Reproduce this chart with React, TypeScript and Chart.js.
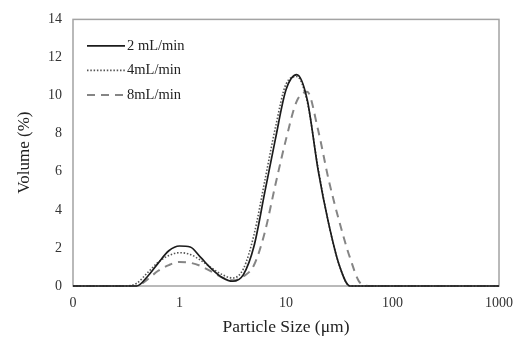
import React, { useEffect, useRef } from "react";
import { Chart, registerables } from "chart.js";

Chart.register(...registerables);

const sizes = [
  0.1, 0.126, 0.158, 0.2, 0.251, 0.316, 0.398, 0.501, 0.631, 0.794,
  1, 1.26, 1.58, 2.0, 2.51, 3.16, 3.98, 5.01, 6.31, 7.94,
  10, 12.6, 15.8, 20, 25.1, 31.6, 39.8, 50.1, 63.1, 79.4,
  100, 126, 158, 200, 251, 316, 398, 501, 631, 794, 1000,
];

const rate2 = [
  0, 0, 0, 0, 0, 0, 0, 0.5, 1.2, 1.85,
  2.1, 2.05, 1.5, 0.9, 0.45, 0.25, 0.6, 2.1, 4.9, 7.7,
  10.3, 11.1, 9.8, 6.1, 3.3, 1.1, 0, 0, 0, 0,
  0, 0, 0, 0, 0, 0, 0, 0, 0, 0, 0,
];

const rate4 = [
  0, 0, 0, 0, 0, 0, 0.15, 0.7, 1.25, 1.6,
  1.75, 1.66, 1.35, 0.95, 0.6, 0.42, 0.9, 2.7, 5.5, 8.3,
  10.6, 11.0, 9.7, 6.2, 3.3, 1.1, 0, 0, 0, 0,
  0, 0, 0, 0, 0, 0, 0, 0, 0, 0, 0,
];

const rate8 = [
  0, 0, 0, 0, 0, 0, 0, 0.35, 0.8, 1.1,
  1.26, 1.22, 1.05, 0.75, 0.45, 0.3, 0.5, 1.1, 2.8, 5.3,
  7.7, 9.7, 10.2, 8.2, 5.6, 3.4, 1.5, 0.15, 0, 0,
  0, 0, 0, 0, 0, 0, 0, 0, 0, 0, 0,
];

const seriesLabels = ["2 mL/min", "4mL/min", "8mL/min"];
const xTickValues = [0.1, 1, 10, 100, 1000];
const xTickLabels = ["0", "1", "10", "100", "1000"];
const yTickValues = [0, 2, 4, 6, 8, 10, 12, 14];

const FONT = '"Liberation Serif", "Times New Roman", serif';

const framePlugin = {
  id: "frame",
  beforeDatasetsDraw(chart: any) {
    const { ctx, chartArea } = chart;
    ctx.save();
    ctx.strokeStyle = "#a3a3a3";
    ctx.lineWidth = 1.5;
    ctx.strokeRect(chartArea.left, chartArea.top, chartArea.right - chartArea.left, chartArea.bottom - chartArea.top);
    ctx.restore();
  },
};

const legendPlugin = {
  id: "insideLegend",
  afterDraw(chart: any) {
    const { ctx, chartArea } = chart;
    const x0 = chartArea.left + 14;
    const w = 38;
    chart.data.datasets.forEach((ds: any, i: number) => {
      const y = chartArea.top + 26.5 + i * 24.5;
      ctx.save();
      ctx.strokeStyle = ds.borderColor;
      ctx.lineWidth = ds.borderWidth;
      ctx.setLineDash(ds.borderDash || []);
      ctx.beginPath();
      ctx.moveTo(x0, y);
      ctx.lineTo(x0 + w, y);
      ctx.stroke();
      ctx.setLineDash([]);
      ctx.fillStyle = "#222";
      ctx.font = `14.5px ${FONT}`;
      ctx.textBaseline = "middle";
      ctx.textAlign = "left";
      ctx.fillText(ds.label, x0 + w + 2, y);
      ctx.restore();
    });
  },
};

export default function App() {
  const ref = useRef<HTMLCanvasElement | null>(null);

  useEffect(() => {
    if (!ref.current) return;
    const mk = (vals: number[]) => sizes.map((s, i) => ({ x: s, y: vals[i] }));
    const chart = new Chart(ref.current, {
      type: "line",
      data: {
        datasets: [
          {
            label: seriesLabels[0],
            data: mk(rate2),
            borderColor: "#1c1c1c",
            borderWidth: 1.7,
            borderDash: [],
            pointRadius: 0,
            cubicInterpolationMode: "monotone",
            clip: 5,
          },
          {
            label: seriesLabels[1],
            data: mk(rate4),
            borderColor: "#555555",
            borderWidth: 1.6,
            borderDash: [1.5, 1.8],
            pointRadius: 0,
            cubicInterpolationMode: "monotone",
            clip: 5,
          },
          {
            label: seriesLabels[2],
            data: mk(rate8),
            borderColor: "#858585",
            borderWidth: 2,
            borderDash: [8, 6],
            pointRadius: 0,
            cubicInterpolationMode: "monotone",
            clip: 5,
          },
        ],
      },
      options: {
        responsive: false,
        animation: false,
        layout: { padding: { top: 18, right: 15, left: 0, bottom: 0 } },
        plugins: { legend: { display: false }, tooltip: { enabled: false } },
        scales: {
          x: {
            type: "logarithmic",
            min: 0.1,
            max: 1000,
            grid: { display: false, drawTicks: false },
            border: { display: false },
            afterBuildTicks: (scale: any) => {
              scale.ticks = xTickValues.map((v) => ({ value: v }));
            },
            afterFit: (scale: any) => {
              scale.height = 52;
            },
            ticks: {
              autoSkip: false,
              maxRotation: 0,
              padding: 9,
              color: "#333",
              font: { family: FONT, size: 14 },
              callback: (_v: any, i: number) => xTickLabels[i],
            },
            title: {
              display: true,
              text: "Particle Size (μm)",
              color: "#222",
              font: { family: FONT, size: 17.5 },
              padding: { top: 0, bottom: 0 },
            },
          },
          y: {
            type: "linear",
            min: 0,
            max: 14,
            grid: { display: false, drawTicks: false },
            border: { display: false },
            afterBuildTicks: (scale: any) => {
              scale.ticks = yTickValues.map((v) => ({ value: v }));
            },
            afterFit: (scale: any) => {
              scale.width = 73;
            },
            ticks: {
              padding: 11,
              color: "#333",
              font: { family: FONT, size: 14 },
            },
            title: {
              display: true,
              text: "Volume (%)",
              color: "#222",
              font: { family: FONT, size: 17 },
              padding: { top: 14, bottom: 0 },
            },
          },
        },
      },
      plugins: [framePlugin, legendPlugin],
    } as any);
    return () => chart.destroy();
  }, []);

  return (
    <div style={{ position: "fixed", left: 0, top: 0, width: 522, height: 338, background: "#fff" }}>
      <canvas ref={ref} width={522} height={338} style={{ display: "block" }} />
    </div>
  );
}
